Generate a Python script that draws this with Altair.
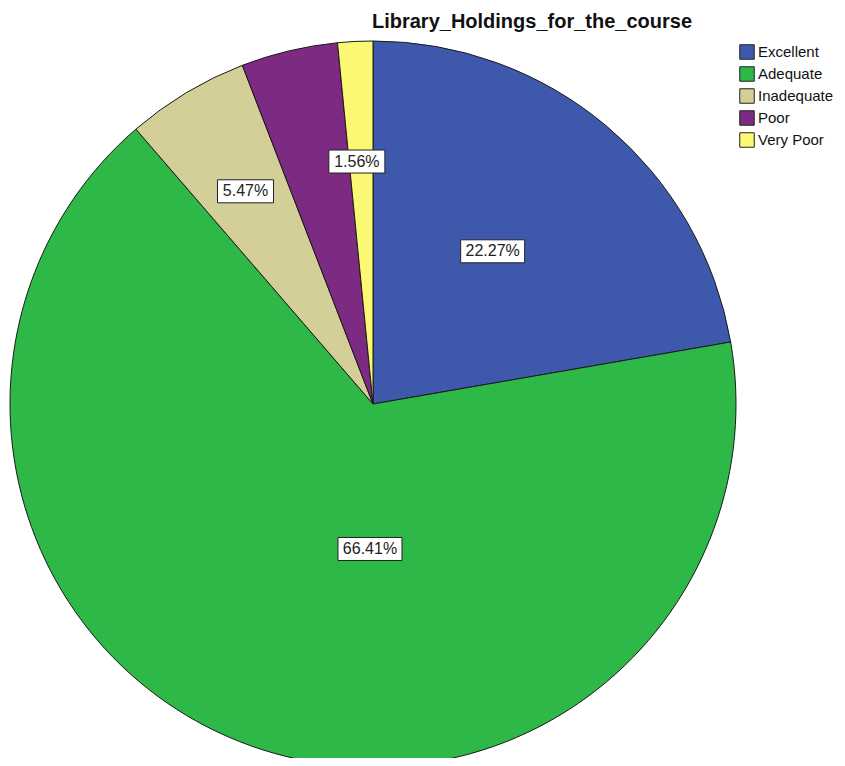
import math
import altair as alt
import pandas as pd

# ---- data ----
categories = ["Excellent", "Adequate", "Inadequate", "Poor", "Very Poor"]
percents = [22.27, 66.41, 5.47, 4.30, 1.56]
labels = ["22.27%", "66.41%", "5.47%", "", "1.56%"]
colors = ["#3E58AC", "#2EB848", "#D4CE98", "#7D2A82", "#FBF873"]

# ---- layout constants ----
W, H = 829, 750
CX, CY, R = 365, 396, 363
label_radius = [194, 145, 248, 0, 243]
label_angle_shift = [-2.0, -18.5, 0.0, 0.0, -1.0]
box_w = [64, 64, 56, 0, 56]
box_h = 23

df = pd.DataFrame({"category": categories, "pct": percents,
                   "order": list(range(len(categories)))})

# label placement from cumulative angles
rows = []
cum = 0.0
total = sum(percents)
for i, (c, p, lab) in enumerate(zip(categories, percents, labels)):
    mid = (cum + p / 2) / total * 360 + label_angle_shift[i]
    cum += p
    if not lab:
        continue
    a = math.radians(mid)
    x = CX + label_radius[i] * math.sin(a)
    y = CY - label_radius[i] * math.cos(a)
    rows.append({"label": lab, "x": x, "y": y,
                 "x1": x - box_w[i] / 2, "x2": x + box_w[i] / 2,
                 "y1": y - box_h / 2, "y2": y + box_h / 2})
lab_df = pd.DataFrame(rows)

color_scale = alt.Scale(domain=categories, range=colors)

pie = alt.Chart(df).mark_arc(stroke="#1a1a1a", strokeWidth=1, outerRadius=R).encode(
    theta=alt.Theta("pct:Q", stack=True),
    order=alt.Order("order:O", sort="ascending"),
    color=alt.Color("category:N", scale=color_scale, sort=categories,
                    legend=alt.Legend(title=None, orient="none", legendX=731, legendY=36,
                                      symbolType="square", symbolSize=210,
                                      symbolStrokeColor="#222", symbolStrokeWidth=1,
                                      labelFont="Liberation Sans", labelFontSize=15,
                                      labelColor="#111", rowPadding=2, labelOffset=3,
                                      symbolOpacity=1)),
    x=alt.value(CX), y=alt.value(CY),
)

boxes = alt.Chart(lab_df).mark_rect(fill="white", stroke="#222", strokeWidth=1).encode(
    x=alt.X("x1:Q", scale=None), x2="x2:Q",
    y=alt.Y("y1:Q", scale=None), y2="y2:Q",
)

texts = alt.Chart(lab_df).mark_text(font="Liberation Sans", fontSize=16, color="#222",
                                    baseline="middle", align="center").encode(
    x=alt.X("x:Q", scale=None), y=alt.Y("y:Q", scale=None), text="label:N",
)

title = alt.Chart(pd.DataFrame({"t": ["Library_Holdings_for_the_course"]})).mark_text(
    font="Liberation Sans", fontSize=20, fontWeight="bold", color="#111",
    align="center", baseline="middle").encode(
    x=alt.value(524), y=alt.value(14), text="t:N")

chart = alt.layer(pie, boxes, texts, title).properties(
    width=W, height=H, padding=0, autosize=alt.AutoSizeParams(type="none")
).configure_view(stroke=None)

chart.save("out.html", embed_options={"renderer": "svg", "actions": False})
